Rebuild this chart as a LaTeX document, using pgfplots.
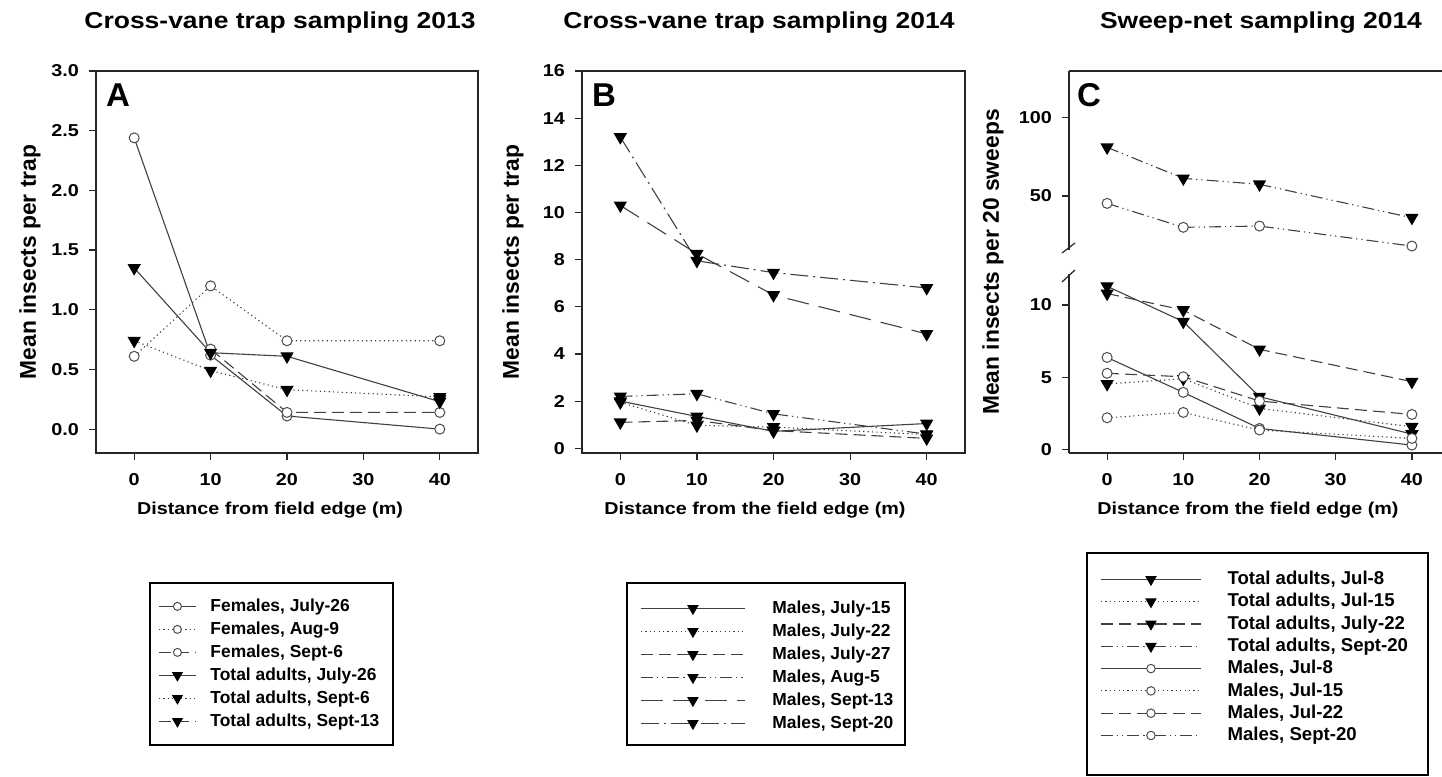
\documentclass[border=0pt]{standalone}
\usepackage{pgfplots}
\pgfplotsset{compat=1.18}
\usepackage{fontspec}
\setmainfont{Liberation Sans}
\newfontfamily\widef{Liberation Sans}[FakeStretch=1.15]
\newcommand\tickf{\widef\bfseries\fontsize{8.6}{10}\selectfont}
\newcommand\titlef{\widef\bfseries\fontsize{11.5}{13}\selectfont}
\newcommand\xlabf{\widef\bfseries\fontsize{8.6}{10}\selectfont}
\newcommand\ylabf{\bfseries\fontsize{11.4}{13}\selectfont}

\pgfplotsset{
  base/.style={
    scale only axis, xmin=-5, xmax=45,
    xtick={0,10,20,30,40}, xticklabels={0,10,20,30,40},
    tick align=outside, major tick length=3.5pt,
    axis line style={black!85, line width=0.6pt},
    every tick/.append style={black!85, line width=0.6pt},
    tick label style={font=\tickf},
    xticklabel style={yshift=-3pt},
    yticklabel style={xshift=-1.5pt},
    legend cell align=left,
  },
  sl/.style={black!75, line width=0.55pt, solid},
  dl/.style={black!75, line width=0.55pt, dash pattern=on 0.6pt off 1.6pt},
  ml/.style={black!75, line width=0.55pt, dash pattern=on 6pt off 3pt},
  ddl/.style={black!75, line width=0.55pt, dash pattern=on 6pt off 2pt on 0.6pt off 2pt on 0.6pt off 2pt},
  ll/.style={black!75, line width=0.55pt, dash pattern=on 11pt off 5pt},
  dal/.style={black!75, line width=0.55pt, dash pattern=on 9pt off 2.5pt on 1pt off 2.5pt},
  tri/.style={mark=triangle*, mark size=3.3pt, mark options={solid, rotate=180, fill=black, draw=black}},
  circ/.style={mark=*, mark size=2.5pt, mark options={solid, fill=white, draw=black!70, line width=0.5pt}},
}

\begin{document}
\begin{tikzpicture}

% ---------- A ----------
\begin{axis}[base,
  at={(48pt,353pt)}, anchor=north west, width=191pt, height=191pt,
  ymin=-0.2, ymax=3.0,
  ytick={0,0.5,1,1.5,2,2.5,3}, yticklabels={0.0,0.5,1.0,1.5,2.0,2.5,3.0},
  xtick pos=bottom, ytick pos=left,
  legend image code/.code={\draw[mark repeat=2,mark phase=2,#1,every mark/.append style={scale=0.8}] plot coordinates {(0pt,0pt) (9.25pt,0pt) (18.5pt,0pt)};},
  legend style={draw=none, fill=none, inner sep=0pt, row sep=0pt, column sep=7pt,
    font=\bfseries\fontsize{8.7}{10}\selectfont,
    nodes={inner sep=0pt, minimum height=11.5pt},
    at={(0.1623,-0.3704)}, anchor=north west},
]
\addplot[sl, circ] coordinates {(0,2.44) (10,0.62) (20,0.11) (40,0.00)};
\addlegendentry{Females, July-26}
\addplot[dl, circ] coordinates {(0,0.61) (10,1.20) (20,0.74) (40,0.74)};
\addlegendentry{Females, Aug-9}
\addplot[ml, circ] coordinates {(10,0.67) (20,0.14) (40,0.14)};
\addlegendentry{Females, Sept-6}
\addplot[sl, tri] coordinates {(0,1.35) (10,0.64) (20,0.61) (40,0.23)};
\addlegendentry{Total adults, July-26}
\addplot[dl, tri] coordinates {(0,0.74) (10,0.49) (20,0.33) (40,0.27)};
\addlegendentry{Total adults, Sept-6}
\addplot[ml, tri] coordinates {(40,0.25)};
\addlegendentry{Total adults, Sept-13}
\end{axis}

% ---------- B ----------
\begin{axis}[base,
  at={(291pt,353pt)}, anchor=north west, width=191.5pt, height=191pt,
  ymin=-0.2, ymax=16,
  ytick={0,2,...,16}, yticklabels={0,2,4,6,8,10,12,14,16},
  xtick pos=bottom, ytick pos=left,
  legend image code/.code={\draw[mark repeat=2,mark phase=2,#1,every mark/.append style={scale=0.85}] plot coordinates {(0pt,0pt) (26pt,0pt) (52pt,0pt)};},
  legend style={draw=none, fill=none, inner sep=0pt, row sep=0pt, column sep=13.5pt,
    font=\bfseries\fontsize{8.7}{10}\selectfont,
    nodes={inner sep=0pt, minimum height=11.5pt},
    at={(0.1514,-0.3757)}, anchor=north west},
]
\addplot[sl, tri] coordinates {(0,2.00) (10,1.35) (20,0.72) (40,1.05)};
\addlegendentry{Males, July-15}
\addplot[dl, tri] coordinates {(0,1.95) (10,0.97) (20,0.90) (40,0.58)};
\addlegendentry{Males, July-22}
\addplot[ml, tri] coordinates {(0,1.10) (10,1.18) (20,0.75) (40,0.42)};
\addlegendentry{Males, July-27}
\addplot[ddl, tri] coordinates {(0,2.20) (10,2.31) (20,1.46) (40,0.60)};
\addlegendentry{Males, Aug-5}
\addplot[ll, tri] coordinates {(0,10.3) (10,8.25) (20,6.50) (40,4.85)};
\addlegendentry{Males, Sept-13}
\addplot[dal, tri] coordinates {(0,13.2) (10,7.95) (20,7.45) (40,6.80)};
\addlegendentry{Males, Sept-20}
\end{axis}

% ---------- C (upper part of the broken axis) ----------
\begin{axis}[base,
  at={(534.5pt,353pt)}, anchor=north west, width=190.5pt, height=89.5pt,
  ymin=15.7, ymax=129.4,
  axis x line*=top, axis y line*=left, axis line style={-},
  xtick=\empty, ytick={50,100}, yticklabels={50,100},
]
\addplot[ddl, tri] coordinates {(0,80.9) (10,61.2) (20,57.4) (40,36.2)};
\addplot[ddl, circ] coordinates {(0,45.3) (10,30.1) (20,30.9) (40,18.2)};
\end{axis}

% ---------- C (lower part) ----------
\begin{axis}[base,
  at={(534.5pt,251.5pt)}, anchor=north west, width=190.5pt, height=89.5pt,
  ymin=-0.25, ymax=12.15,
  axis x line*=bottom, axis y line*=left, axis line style={-},
  ytick={0,5,10}, yticklabels={0,5,10},
  legend image code/.code={\draw[mark repeat=2,mark phase=2,#1,every mark/.append style={scale=0.85}] plot coordinates {(0pt,0pt) (25pt,0pt) (50pt,0pt)};},
  legend style={draw=none, fill=none, inner sep=0pt, row sep=0pt, column sep=13pt,
    font=\bfseries\fontsize{9.3}{10.5}\selectfont,
    nodes={inner sep=0pt, minimum height=11.15pt},
    at={(0.0814,-0.6416)}, anchor=north west},
]
\addplot[sl, tri] coordinates {(0,11.3) (10,8.85) (20,3.65) (40,1.06)};
\addlegendentry{Total adults, Jul-8}
\addplot[dl, tri] coordinates {(0,4.53) (10,4.90) (20,2.84) (40,1.57)};
\addlegendentry{Total adults, Jul-15}
\addplot[ml, tri] coordinates {(0,10.8) (10,9.65) (20,6.93) (40,4.69)};
\addlegendentry{Total adults, July-22}
\addlegendimage{ddl, tri}
\addlegendentry{Total adults, Sept-20}
\addplot[sl, circ] coordinates {(0,6.37) (10,3.95) (20,1.45) (40,0.30)};
\addlegendentry{Males, Jul-8}
\addplot[dl, circ] coordinates {(0,2.19) (10,2.56) (20,1.34) (40,0.76)};
\addlegendentry{Males, Jul-15}
\addplot[ml, circ] coordinates {(0,5.27) (10,5.03) (20,3.35) (40,2.42)};
\addlegendentry{Males, Jul-22}
\addlegendimage{ddl, circ}
\addlegendentry{Males, Sept-20}
\end{axis}

% axis break marks
\draw[black!85, line width=0.6pt] (531pt,262pt) -- (537.5pt,267pt);
\draw[black!85, line width=0.6pt] (531pt,247.5pt) -- (537.5pt,253.5pt);

% panel letters
\node[font=\bfseries\fontsize{16.5}{18}\selectfont] at (59pt,341pt) {A};
\node[font=\bfseries\fontsize{16.5}{18}\selectfont] at (302pt,341pt) {B};
\node[font=\bfseries\fontsize{16.5}{18}\selectfont] at (544.5pt,341pt) {C};

% titles
\node[font=\titlef] at (140pt,377pt) {Cross-vane trap sampling 2013};
\node[font=\titlef] at (379.5pt,377pt) {Cross-vane trap sampling 2014};
\node[font=\titlef] at (630.5pt,377pt) {Sweep-net sampling 2014};

% axis labels
\node[font=\xlabf] at (135pt,133.5pt) {Distance from field edge (m)};
\node[font=\xlabf] at (377.5pt,133.5pt) {Distance from the field edge (m)};
\node[font=\xlabf] at (624pt,133.5pt) {Distance from the field edge (m)};
\node[font=\ylabf, rotate=90] at (15pt,257.5pt) {Mean insects per trap};
\node[font=\ylabf, rotate=90] at (256.5pt,257.5pt) {Mean insects per trap};
\node[font=\ylabf, rotate=90] at (496.5pt,257.5pt) {Mean insects per 20 sweeps};

% legend frames
\draw[black, line width=0.7pt] (75pt,97pt) rectangle (196.5pt,16pt);
\draw[black, line width=0.7pt] (313.5pt,97pt) rectangle (452.5pt,16pt);
\draw[black, line width=0.7pt] (543.5pt,112pt) rectangle (714pt,1pt);

\pgfresetboundingbox
\useasboundingbox (0pt,0pt) rectangle (721pt,388.5pt);
\end{tikzpicture}
\end{document}
